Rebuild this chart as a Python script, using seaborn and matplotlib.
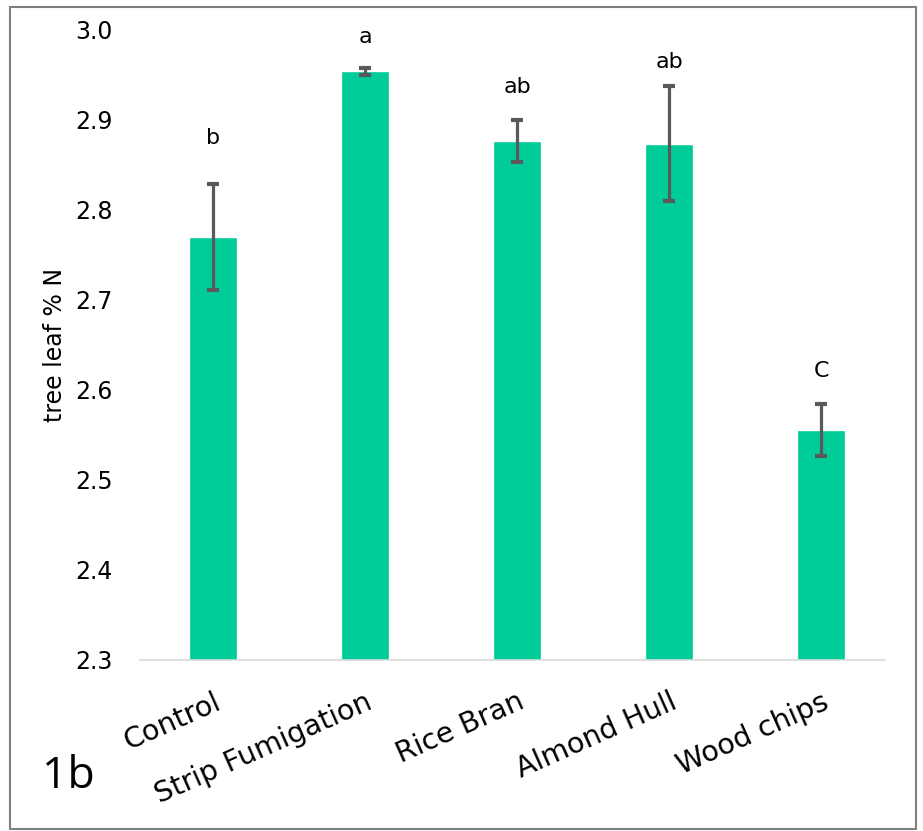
import matplotlib
matplotlib.use("Agg")
import matplotlib.pyplot as plt
import numpy as np
import pandas as pd
import seaborn as sns

# values
treatments = ["Control", "Strip Fumigation", "Rice Bran", "Almond Hull", "Wood chips"]
leaf_n = [2.769, 2.953, 2.876, 2.873, 2.555]
err = [0.059, 0.004, 0.023, 0.064, 0.029]
letters = ["b", "a", "ab", "ab", "C"]
letter_y = [2.879, 2.991, 2.936, 2.964, 2.620]
yticks = [2.3, 2.4, 2.5, 2.6, 2.7, 2.8, 2.9, 3.0]

df = pd.DataFrame({"treatment": treatments, "leaf_n": leaf_n})

sns.set_theme(style="white")
plt.rcParams["font.family"] = ["DejaVu Sans"]
plt.rcParams["text.color"] = "black"
plt.rcParams["xtick.color"] = "black"
plt.rcParams["ytick.color"] = "black"
plt.rcParams["axes.labelcolor"] = "black"

fig = plt.figure(figsize=(9.23, 8.31), dpi=100)
ax = fig.add_axes([0.152, 0.206, 0.807, 0.759])

sns.barplot(data=df, x="treatment", y="leaf_n", color="#00CC99",
            saturation=1, width=0.315, errorbar=None, ax=ax)
ax.errorbar(np.arange(len(treatments)), leaf_n, yerr=err, fmt="none",
            ecolor="#595959", elinewidth=2.3, capsize=4, capthick=3)

for i, (lab, yv) in enumerate(zip(letters, letter_y)):
    ax.text(i, yv, lab, ha="center", va="center", fontsize=16)

ax.set_ylim(2.3, 3.0)
ax.set_yticks(yticks)
ax.set_yticklabels([f"{v:.1f}" for v in yticks], fontsize=17)
ax.tick_params(axis="y", length=0, pad=20)
ax.tick_params(axis="x", length=0, pad=20)
ax.set_xticks(range(len(treatments)))
ax.set_xticklabels(treatments, rotation=24, ha="right", rotation_mode="anchor",
                   fontsize=20.5)
ax.set_xlabel("")
ax.set_ylabel("tree leaf % N", fontsize=17, labelpad=6)
ax.set_xlim(-0.48, 4.42)

for side in ["top", "right", "left"]:
    ax.spines[side].set_visible(False)
ax.spines["bottom"].set_color("#d9d9d9")
ax.spines["bottom"].set_linewidth(1.2)

fig.text(0.046, 0.065, "1b", fontsize=32, ha="left", va="center",
         family="Open Sans")

# grey frame around the whole chart
frame = plt.Rectangle((0.011, 0.003), 0.981, 0.989, transform=fig.transFigure,
                      fill=False, edgecolor="#7f7f7f", linewidth=1.5)
fig.patches.append(frame)

fig.savefig("out.png", dpi=100)
